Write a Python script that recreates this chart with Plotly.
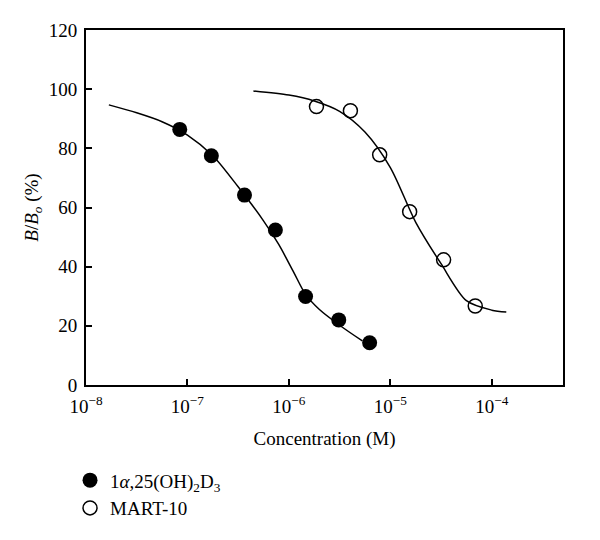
import plotly.graph_objects as go

# Data points (concentration in M, B/Bo in %)
calcitriol_conc = [8.4e-8, 1.72e-7, 3.65e-7, 7.36e-7, 1.46e-6, 3.10e-6, 6.25e-6]
calcitriol_bbo = [86.4, 77.5, 64.2, 52.4, 29.9, 22.0, 14.3]

mart10_conc = [1.87e-6, 4.04e-6, 7.85e-6, 1.55e-5, 3.35e-5, 6.87e-5]
mart10_bbo = [94.1, 92.7, 77.8, 58.6, 42.3, 26.7]

# Fitted curves
calcitriol_fit_conc = [1.68e-8, 3.16e-8, 5.62e-8, 1.0e-7, 1.78e-7, 3.16e-7, 5.62e-7,
                       7.94e-7, 1.12e-6, 1.45e-6, 2.0e-6, 3.16e-6, 5.30e-6]
calcitriol_fit_bbo = [94.7, 92.0, 89.0, 84.5, 77.5, 67.0, 55.5,
                      47.5, 38.0, 30.8, 25.5, 20.2, 14.9]

mart10_fit_conc = [4.47e-7, 1.0e-6, 1.78e-6, 3.16e-6, 5.62e-6, 1.0e-5, 1.78e-5,
                   3.16e-5, 5.62e-5, 1.0e-4, 1.39e-4]
mart10_fit_bbo = [99.4, 98.0, 96.0, 92.5, 85.5, 73.5, 55.0,
                  41.0, 28.5, 25.3, 24.7]

x_tickvals = [1e-8, 1e-7, 1e-6, 1e-5, 1e-4]
x_ticktext = ["10<sup>−8</sup>", "10<sup>−7</sup>", "10<sup>−6</sup>", "10<sup>−5</sup>", "10<sup>−4</sup>"]
y_tickvals = [0, 20, 40, 60, 80, 100, 120]

FONT = "Liberation Serif, serif"
FS = 19

fig = go.Figure()
fig.add_trace(go.Scatter(x=calcitriol_fit_conc, y=calcitriol_fit_bbo, mode="lines",
                         line=dict(color="black", width=1.5, shape="spline", smoothing=0.8),
                         showlegend=False, hoverinfo="skip"))
fig.add_trace(go.Scatter(x=mart10_fit_conc, y=mart10_fit_bbo, mode="lines",
                         line=dict(color="black", width=1.5, shape="spline", smoothing=0.8),
                         showlegend=False, hoverinfo="skip"))
fig.add_trace(go.Scatter(x=calcitriol_conc, y=calcitriol_bbo, mode="markers",
                         name="1<i>α</i>,25(OH)<sub>2</sub>D<sub>3</sub>",
                         marker=dict(symbol="circle", size=15, color="black",
                                     line=dict(color="black", width=0))))
fig.add_trace(go.Scatter(x=mart10_conc, y=mart10_bbo, mode="markers",
                         name="MART-10",
                         marker=dict(symbol="circle-open", size=14, color="black",
                                     line=dict(color="black", width=1.5))))

# The page body has an 8px margin, so the figure is 8px smaller than the window.
fig.update_layout(
    width=592, height=532,
    margin=dict(l=77.5, r=37.3, t=22, b=154.5, autoexpand=False),
    paper_bgcolor="white", plot_bgcolor="white",
    font=dict(family=FONT, size=FS, color="black"),
    xaxis=dict(type="log", range=[-8, -3.298], tickvals=x_tickvals, ticktext=x_ticktext,
               ticks="inside", ticklen=6, tickwidth=1.5, tickcolor="black",
               showline=True, linecolor="black", linewidth=1.8, mirror=True,
               showgrid=False, zeroline=False, automargin=False, ticklabelstandoff=3,
               title=dict(text="Concentration (M)", font=dict(size=FS), standoff=16),
               tickfont=dict(size=FS)),
    yaxis=dict(range=[0, 120], tickvals=y_tickvals,
               ticks="inside", ticklen=6, tickwidth=1.5, tickcolor="black",
               showline=True, linecolor="black", linewidth=1.8, mirror=True,
               showgrid=False, zeroline=False, automargin=False, ticklabelstandoff=3,
               title=dict(text="<i>B</i>/<i>B</i><sub><i>o</i></sub> (%)", font=dict(size=FS), standoff=5),
               tickfont=dict(size=FS)),
    legend=dict(x=-0.0335, y=-0.215, xanchor="left", yanchor="top",
                font=dict(size=FS), bgcolor="rgba(0,0,0,0)", tracegroupgap=0),
)

fig.write_html("out.html")
